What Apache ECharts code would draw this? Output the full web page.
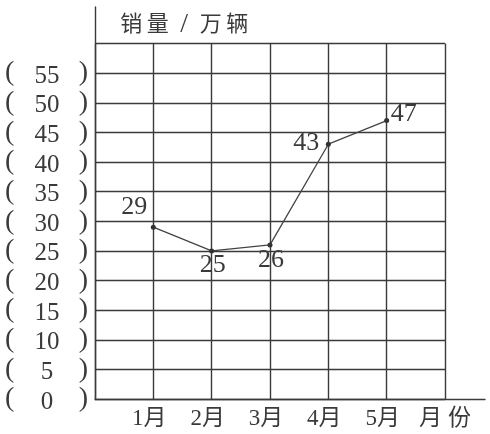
<!DOCTYPE html>
<html>
<head>
<meta charset="utf-8">
<script src="https://cdn.jsdelivr.net/npm/echarts@6/dist/echarts.min.js"></script>
<style>html,body{margin:0;padding:0;background:#fff}#c{width:490px;height:434px}</style>
</head>
<body>
<div id="c"></div>
<script>
const months = ['1月', '2月', '3月', '4月', '5月'];
const sales = [29, 25, 26, 43, 47];
const yTicks = [0, 5, 10, 15, 20, 25, 30, 35, 40, 45, 50, 55];
const xAxisName = '月份';
const yAxisName = '销量/万辆';

const serif = "'Liberation Serif', 'Noto Sans CJK SC', serif";
const ink = '#3a3a3a';
// label placement relative to the point (style, not data)
const labelOffsets = [[-19, -20], [1, 14], [1, 15], [-22, -1], [17, -6]];

const chart = echarts.init(document.getElementById('c'));
const option = {
  animation: false,
  backgroundColor: '#fff',
  title: {
    text: yAxisName.split('').map(ch => ch === '/' ? '{s|/}' : '{c|' + ch + '}').join(''),
    left: 113, top: 6,
    textStyle: { rich: {
      c: { width: 26.5, align: 'center', fontSize: 22, color: ink, fontFamily: serif, fontWeight: 'normal' },
      s: { width: 26.5, align: 'center', fontSize: 28, color: ink, fontFamily: serif, fontWeight: 'normal' }
    } }
  },
  grid: [
    { left: 95, right: 45, top: 43.5, bottom: 35 },
    { left: 95, right: 5, top: 7, bottom: 35 }
  ],
  xAxis: [
    {
      gridIndex: 0, type: 'value', min: 0, max: months.length + 1, interval: 1,
      axisLine: { show: false }, axisTick: { show: false },
      splitLine: { show: true, lineStyle: { color: ink, width: 1.4 } },
      axisLabel: {
        margin: 8,
        showMinLabel: true, showMaxLabel: true,
        formatter: v => {
          if (v >= 1 && v <= months.length) return '{m|' + months[v - 1] + '}';
          if (v === months.length + 1) return xAxisName.split('').map(ch => '{n|' + ch + '}').join('');
          return '';
        },
        rich: {
          m: { fontSize: 23, color: ink, fontFamily: serif, padding: [0, 8, 0, 0] },
          n: { fontSize: 23, color: ink, fontFamily: serif, width: 29, align: 'center' }
        }
      }
    },
    {
      gridIndex: 1, type: 'value', min: 0, max: 1,
      axisLine: { show: true, lineStyle: { color: ink, width: 1.4 } },
      axisTick: { show: false }, axisLabel: { show: false }, splitLine: { show: false }
    }
  ],
  yAxis: [
    {
      gridIndex: 0, type: 'value', min: 0, max: 60, interval: 5,
      axisLine: { show: false }, axisTick: { show: false },
      splitLine: { show: true, lineStyle: { color: ink, width: 1.4 } },
      axisLabel: {
        margin: 7,
        formatter: v => yTicks.indexOf(v) >= 0 ? '{p|(}{n|' + v + '}{q|)}' : '',
        rich: {
          p: { width: 28, align: 'left', fontSize: 28, color: ink, fontFamily: serif },
          n: { width: 28, align: 'center', fontSize: 25, color: ink, fontFamily: serif, padding: [6, 0, 0, 0] },
          q: { width: 27, align: 'right', fontSize: 28, color: ink, fontFamily: serif }
        }
      }
    },
    {
      gridIndex: 1, type: 'value', min: 0, max: 1,
      axisLine: { show: true, lineStyle: { color: ink, width: 1.4 } },
      axisTick: { show: false }, axisLabel: { show: false }, splitLine: { show: false }
    }
  ],
  series: [{
    type: 'line',
    xAxisIndex: 0, yAxisIndex: 0,
    data: sales.map((v, i) => ({
      value: [i + 1, v],
      label: { offset: labelOffsets[i] }
    })),
    symbol: 'circle', symbolSize: 5,
    itemStyle: { color: '#333' },
    lineStyle: { color: '#444', width: 1.3 },
    label: {
      show: true, position: 'inside',
      formatter: p => String(p.value[1]),
      fontSize: 26, color: ink, fontFamily: serif
    },
    z: 5
  }]
};
chart.setOption(option);
</script>
</body>
</html>
